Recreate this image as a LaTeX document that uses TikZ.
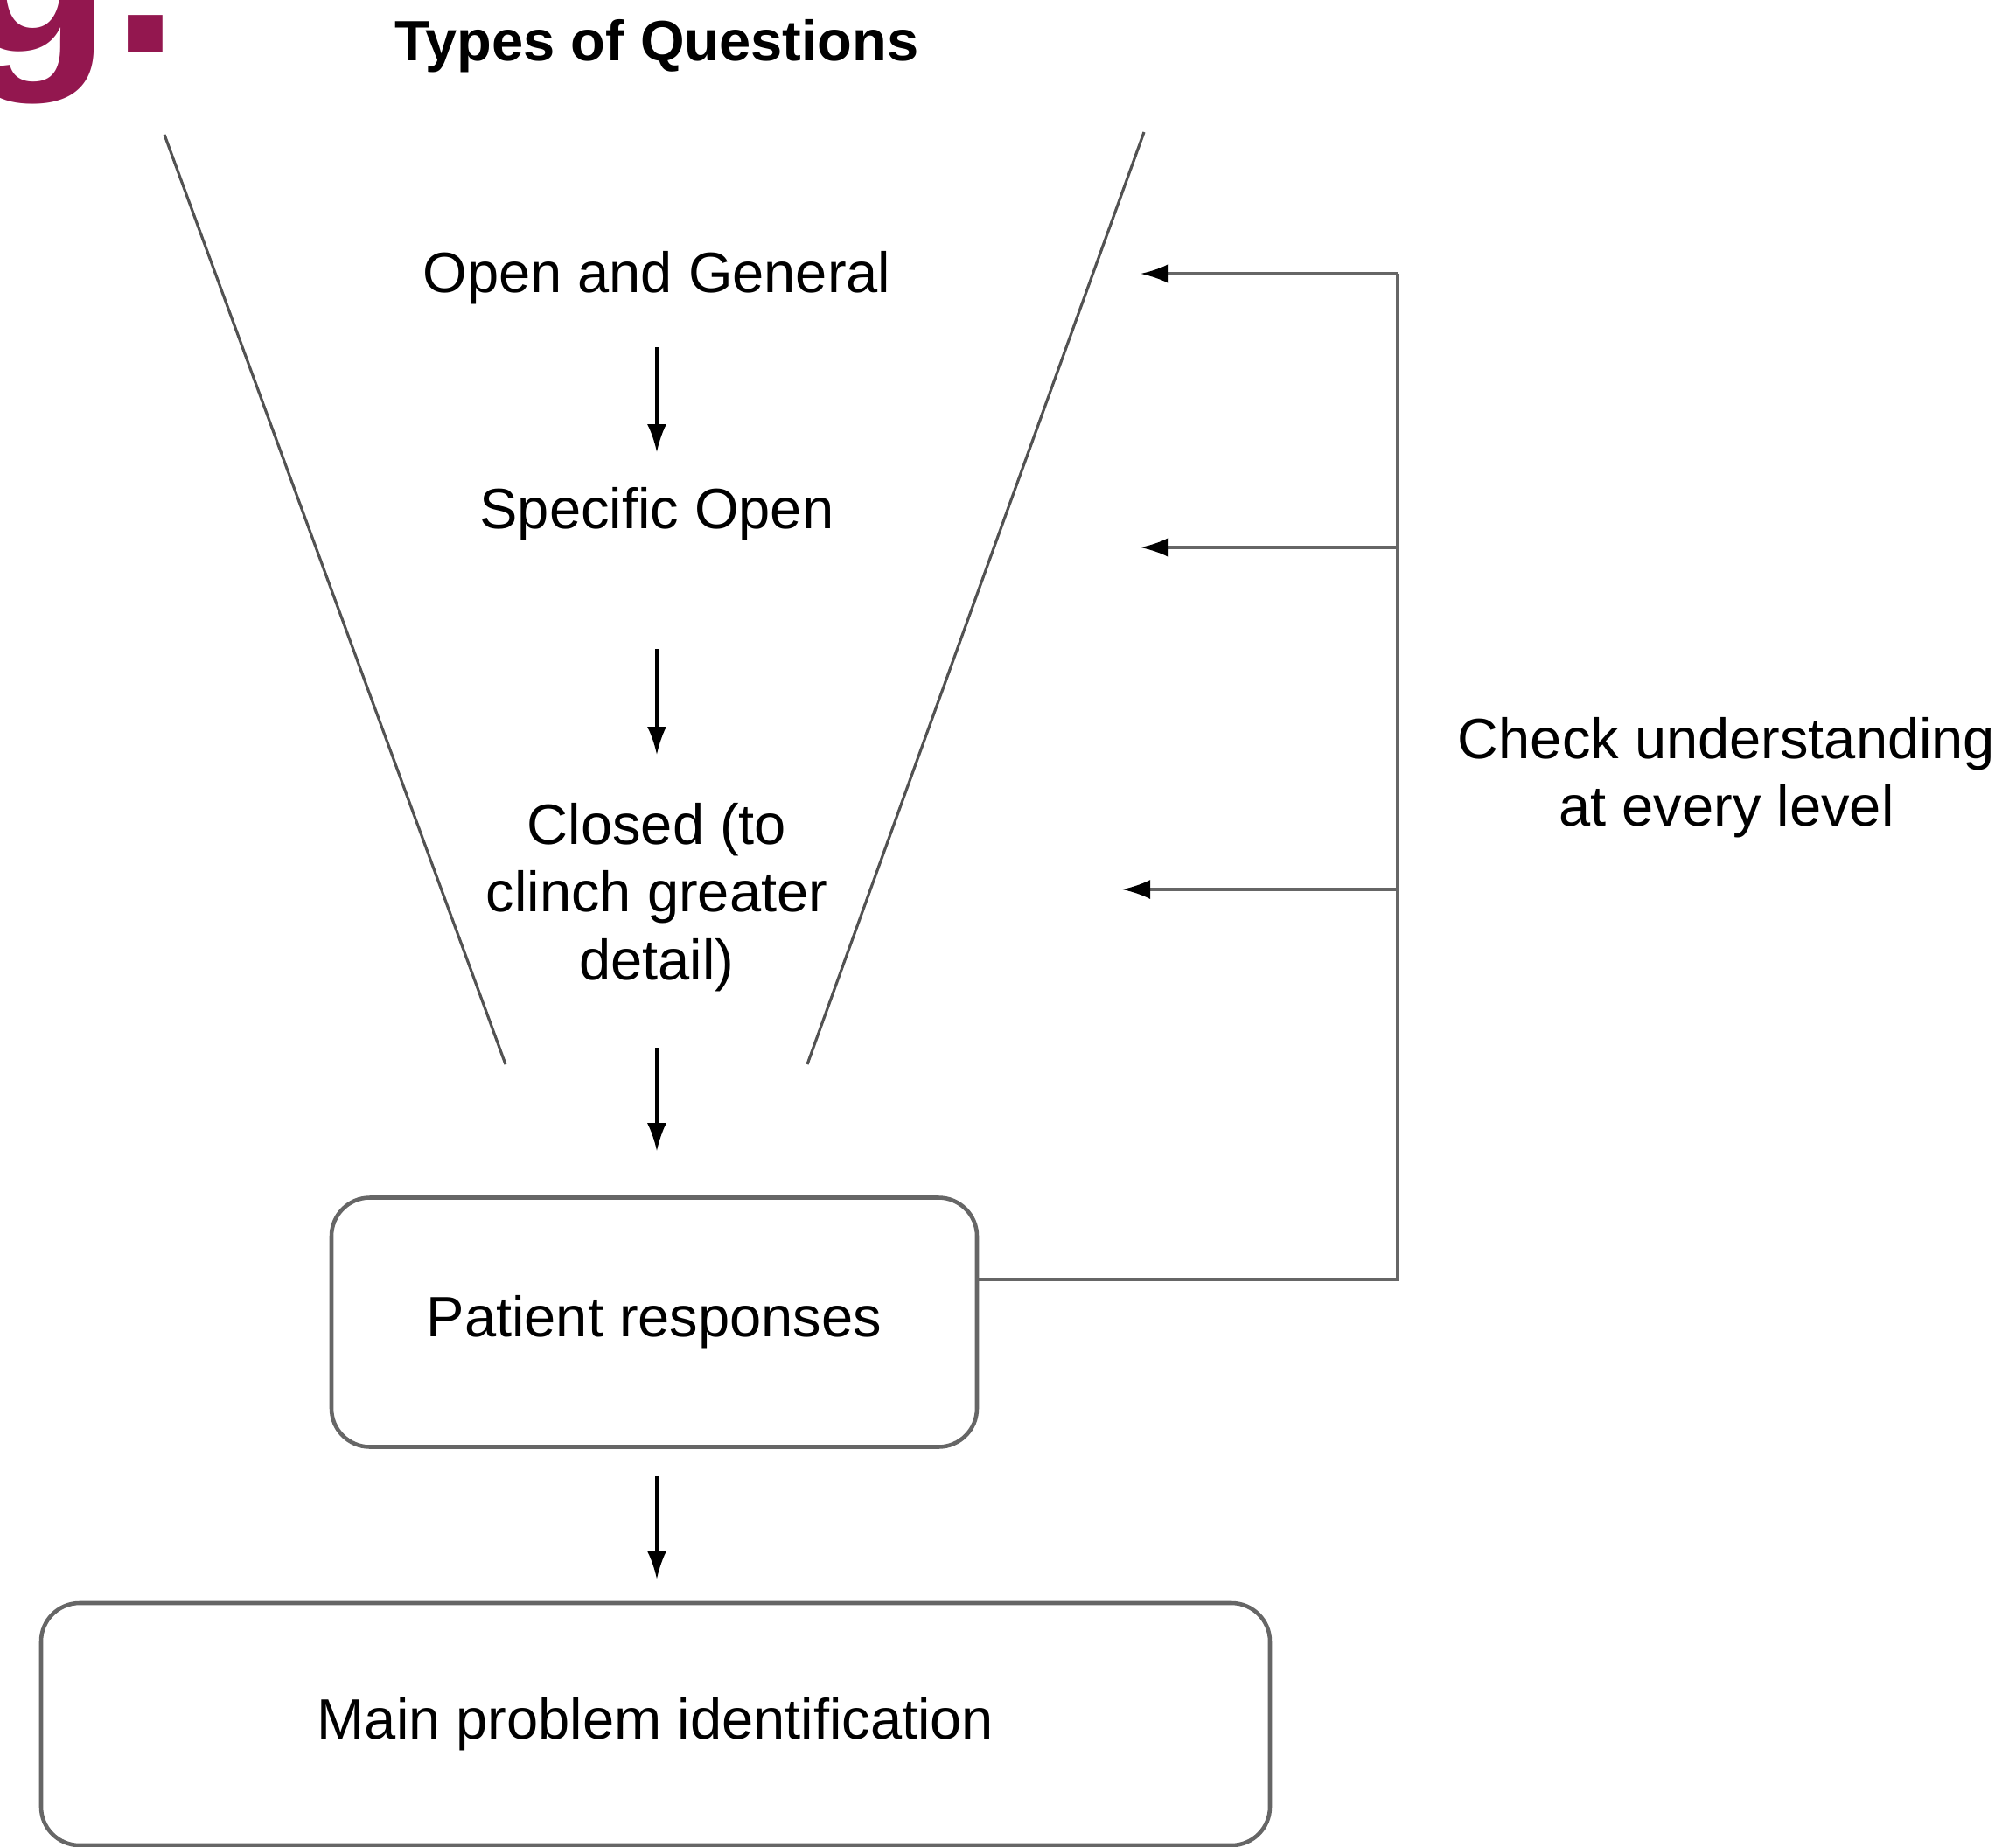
\documentclass[tikz,border=0pt]{standalone}
\usepackage{fontspec}
\setmainfont{Liberation Sans}
\usetikzlibrary{arrows.meta}
\definecolor{plum}{HTML}{93174F}
\definecolor{linegray}{HTML}{666666}
\def\leftside{(1.88,-1.54) -- (5.78,-12.17)}
\def\rightside{(13.08,-1.51) -- (9.23,-12.17)}

\begin{document}
\begin{tikzpicture}[font=\fontsize{18.5}{22}\selectfont,
	box/.style={draw=linegray, line width=1.3pt, rounded corners=0.44cm},
	down/.style={-{Latex[length=3.2mm,width=2.2mm]}, line width=0.9pt},
	back/.style={draw=linegray, line width=0.9pt},
	backarrow/.style={back, -{Latex[length=3.2mm,width=2.2mm,color=black]}}]
	\useasboundingbox (0,0) rectangle (23.05,-21.12);

	\node[anchor=base west, inner sep=0, text=plum, font=\fontsize{80}{80}\selectfont\bfseries] (tag) at (-0.45,-0.59) {g.};
	\node[font=\fontsize{18.5}{22}\selectfont\bfseries] (title) at (7.51,-0.53) {Types of Questions};

	% the funnel
	\draw[linegray!80!black, line width=0.9pt] \leftside;
	\draw[linegray!80!black, line width=0.9pt] \rightside;

	\node (openq) at (7.51,-3.18) {Open and General};
	\node (specq) at (7.51,-5.88) {Specific Open};
	\node[align=center] (closedq) at (7.51,-10.26) {Closed (to\\clinch greater\\detail)};
	\node[box, minimum width=7.38cm, minimum height=2.85cm] (resp) at (7.48,-15.12) {Patient responses};
	\node[box, minimum width=14.05cm, minimum height=2.77cm] (mainprob) at (7.495,-19.715) {Main problem identification};
	\node[align=center] (check) at (19.74,-8.89) {Check understanding\\at every level};

	\draw[down, shorten <=0.79cm, shorten >=0.71cm] (openq.center) -- (specq.center);
	\draw[down, shorten <=1.54cm, shorten >=1.63cm] (specq.center) -- (closedq.center);
	\draw[down, shorten <=1.72cm, shorten >=0.51cm] (closedq.center) -- (closedq.center |- resp.north);
	\draw[down, shorten <=0.31cm, shorten >=0.25cm] (closedq.center |- resp.south) -- (closedq.center |- mainprob.north);

	% feedback to every level
	\coordinate (spine) at (15.98,-3.13);
	\coordinate (midjoin) at (15.98,-6.26);
	\coordinate (lowjoin) at (15.98,-10.17);
	\coordinate (tipa) at (13.04,-3.13);
	\coordinate (tipb) at (13.04,-6.26);
	\coordinate (tipc) at (12.83,-10.17);
	\draw[back] ([yshift=4.9mm]resp.east) -| (spine);
	\draw[backarrow] (spine) -- (tipa);
	\draw[backarrow] (midjoin) -- (tipb);
	\draw[backarrow] (lowjoin) -- (tipc);
\end{tikzpicture}
\end{document}
